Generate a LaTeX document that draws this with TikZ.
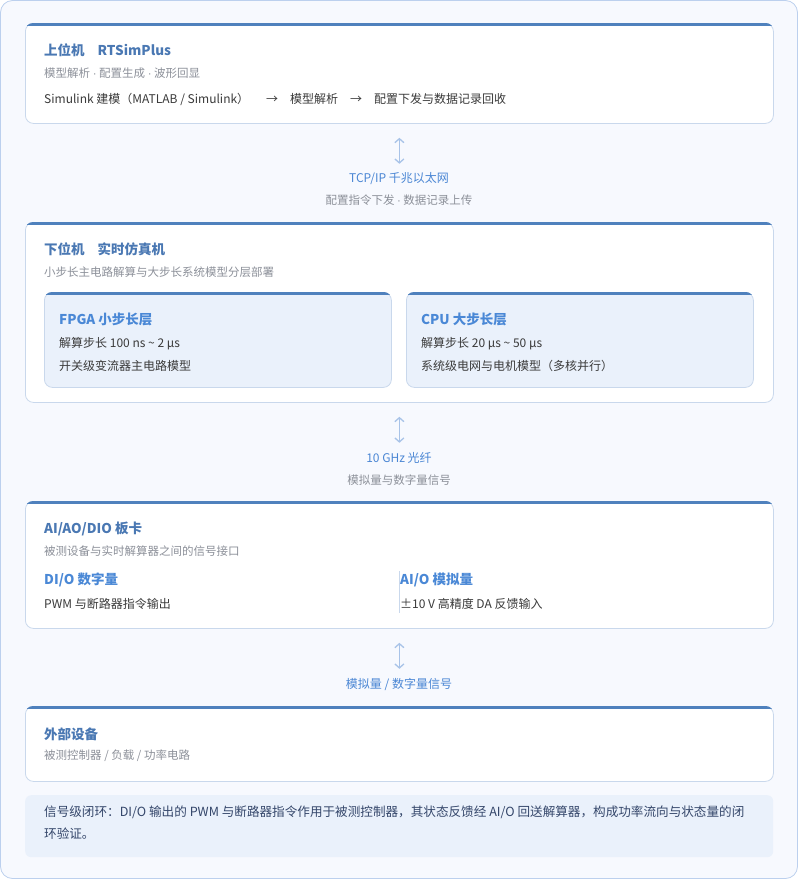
\documentclass[tikz,border=0pt]{standalone}
\usepackage{fontspec}
\setmainfont{Noto Sans CJK SC}
\newfontfamily\dotfont{Liberation Sans}
\newcommand\midsep{ {\dotfont ·} }
\usetikzlibrary{arrows.meta}

\definecolor{pagebg}{HTML}{F7F9FE}
\definecolor{pageline}{HTML}{BCD0EE}
\definecolor{panelline}{HTML}{C9D8EC}
\definecolor{topblue}{HTML}{4F81BD}
\definecolor{layerfill}{HTML}{EAF1FB}
\definecolor{titleblue}{HTML}{4A78B3}
\definecolor{layerblue}{HTML}{4A88D6}
\definecolor{linkblue}{HTML}{4A86D4}
\definecolor{arrowblue}{HTML}{A8C3E8}
\definecolor{subgray}{HTML}{8C9099}
\definecolor{bodytext}{HTML}{3A3A3A}
\definecolor{notetext}{HTML}{34466A}

\begin{document}
\begin{tikzpicture}[
    x = 1pt,
    y = -1pt,
    panel/.style = {draw=panelline, line width=0.8pt, fill=white, rounded corners=8pt,
      anchor=north west, inner sep=0pt, minimum width=748pt},
    layer/.style = {panel, fill=layerfill, minimum width=347pt, minimum height=95pt},
    boxtitle/.style = {anchor=west, inner sep=0pt, text=titleblue,
      font=\fontsize{13.5}{16}\selectfont\bfseries},
    layertitle/.style = {boxtitle, text=layerblue},
    boxsub/.style = {anchor=west, inner sep=0pt, text=subgray, font=\fontsize{11.5}{13}\selectfont},
    boxtext/.style = {anchor=west, inner sep=0pt, text=bodytext, font=\fontsize{12}{14}\selectfont},
    linktext/.style = {inner sep=0pt, text=linkblue, font=\fontsize{12}{14}\selectfont},
    linknote/.style = {inner sep=0pt, text=subgray, font=\fontsize{11.5}{13}\selectfont},
    link/.style = {<->, >={Straight Barb[length=4pt, width=9pt]}, draw=arrowblue, line width=1.3pt},
    ]
    \useasboundingbox (0,0) rectangle (798,879);
    % page
    \draw[fill=pagebg, draw=pageline, rounded corners=12pt, line width=0.8pt]
    (0.5,0.5) rectangle (797.5,878.5);
    % panels
    \node[panel, minimum height=100pt] (host) at (25,23) {};
    \node[panel, minimum height=180pt] (target) at (25,222) {};
    \node[layer] (fpga) at (44,292) {};
    \node[layer] (cpu) at (406,292) {};
    \node[panel, minimum height=127pt] (io) at (25,501) {};
    \node[panel, minimum height=75pt] (ext) at (25,706) {};
    \node[fill=layerfill, rounded corners=6pt, anchor=north west, inner sep=0pt,
      minimum width=748pt, minimum height=62pt] (note) at (25,795) {};
    % top bars
    \foreach \p in {host, target, fpga, cpu, io, ext} {
      \begin{scope}
        \clip[rounded corners=8pt] (\p.north west) rectangle (\p.south east);
        \fill[topblue] (\p.north west) rectangle ([yshift=-3pt]\p.north east);
      \end{scope}
    }
    % host block
    \node[boxtitle] (hosttitle) at (44,50) {上位机\hspace{13pt}RTSimPlus};
    \node[boxsub] (hostsub) at (44,73) {模型解析\midsep 配置生成\midsep 波形回显};
    \node[boxtext] (hostflow) at (44,99)
    {Simulink 建模（MATLAB / Simulink）\hspace{17pt}→\hspace{12pt}模型解析\hspace{12pt}→\hspace{12pt}配置下发与数据记录回收};
    % link 1
    \draw[link] ([yshift=-14pt]host.south) -- ++(0,26);
    \node[linktext] (tcp) at (399,179) {TCP/IP 千兆以太网};
    \node[linknote] (tcpnote) at (399,200) {配置指令下发\midsep 数据记录上传};
    % target block
    \node[boxtitle] (targettitle) at (44,249) {下位机\hspace{13pt}实时仿真机};
    \node[boxsub] (targetsub) at (44,272) {小步长主电路解算与大步长系统模型分层部署};
    \node[layertitle] (fpgatitle) at (59,319) {FPGA 小步长层};
    \node[boxtext] (fpgastep) at (59,344) {解算步长 100 ns \textasciitilde{} 2 μs};
    \node[boxtext] (fpgamodel) at (59,366) {开关级变流器主电路模型};
    \node[layertitle] (cputitle) at (421,319) {CPU 大步长层};
    \node[boxtext] (cpustep) at (421,344) {解算步长 20 μs \textasciitilde{} 50 μs};
    \node[boxtext] (cpumodel) at (421,366) {系统级电网与电机模型（多核并行）};
    % link 2
    \draw[link] ([yshift=-14pt]target.south) -- ++(0,26);
    \node[linktext] (fiber) at (399,458) {10 GHz 光纤};
    \node[linknote] (fibernote) at (399,480) {模拟量与数字量信号};
    % io block
    \node[boxtitle] (iotitle) at (44,529) {AI/AO/DIO 板卡};
    \node[boxsub] (iosub) at (44,551) {被测设备与实时解算器之间的信号接口};
    \node[layertitle] (dititle) at (44,580) {DI/O 数字量};
    \node[boxtext] (ditext) at (44,604) {PWM 与断路器指令输出};
    \draw[panelline, line width=0.8pt] ([yshift=-70pt]io.north) -- ++(0,42);
    \node[layertitle] (aititle) at (400,580) {AI/O 模拟量};
    \node[boxtext] (aitext) at (400,604) {±10 V 高精度 DA 反馈输入};
    % link 3
    \draw[link] ([yshift=-14pt]io.south) -- ++(0,26);
    \node[linktext] (sig) at (399,684) {模拟量 / 数字量信号};
    % external block
    \node[boxtitle] (exttitle) at (44,734) {外部设备};
    \node[boxsub] (extsub) at (44,756) {被测控制器 / 负载 / 功率电路};
    % closing note
    \node[anchor=north west, inner sep=0pt, align=left, text=notetext,
      font=\fontsize{12.6}{22}\selectfont] (notetext) at (44,806)
    {信号级闭环：DI/O 输出的 PWM 与断路器指令作用于被测控制器，其状态反馈经 AI/O 回送解算器，构成功率流向与状态量的闭\\环验证。};
  \end{tikzpicture}
\end{document}
